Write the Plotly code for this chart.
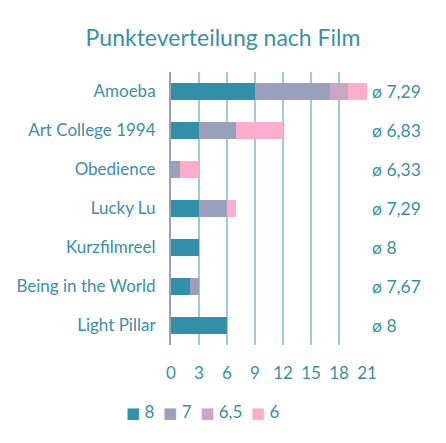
import plotly.graph_objects as go

# films, top to bottom
films = ['Amoeba', 'Art College 1994', 'Obedience', 'Lucky Lu',
         'Kurzfilmreel', 'Being in the World', 'Light Pillar']

# how many times each score was given per film
scores = ['8', '7', '6,5', '6']
score_values = [8, 7, 6.5, 6]
count_8 = [9, 3, 0, 3, 3, 2, 6]
count_7 = [8, 4, 1, 3, 0, 1, 0]
count_65 = [2, 0, 0, 0, 0, 0, 0]
count_6 = [2, 5, 2, 1, 0, 0, 0]

x_ticks = [0, 3, 6, 9, 12, 15, 18, 21]

colors = ['#318fa8', '#9aa0bb', '#caa5c5', '#ffaccd']
text_color = '#3a8fa8'
font = 'Lato, Open Sans, sans-serif'

counts = [count_8, count_7, count_65, count_6]

fig = go.Figure()
for name, vals, col in zip(scores, counts, colors):
    fig.add_trace(go.Bar(y=films, x=vals, name=name, orientation='h',
                         marker=dict(color=col, line=dict(width=0))))

# average score per film
for i, film in enumerate(films):
    total = sum(c[i] for c in counts)
    avg = sum(c[i] * s for c, s in zip(counts, score_values)) / total
    if abs(avg - round(avg)) < 1e-9:
        label = 'ø %d' % round(avg)
    else:
        label = 'ø ' + ('%.2f' % avg).replace('.', ',')
    fig.add_annotation(x=1, xref='paper', y=film, yref='y', text=label,
                       xanchor='left', xshift=3, showarrow=False,
                       font=dict(size=17.5, color=text_color, family=font))

# compact legend row, like the original
legend_text = '&nbsp;&nbsp;'.join(
    '<span style="color:%s;font-family:DejaVu Sans;font-size:15px">■</span> %s' % (c, s)
    for s, c in zip(scores, colors))
fig.add_annotation(x=0.163, xref='paper', y=-0.242, yref='paper',
                   xanchor='center', yanchor='middle', text=legend_text,
                   showarrow=False, font=dict(size=17, color=text_color, family=font))

fig.update_layout(
    width=446, height=443,
    barmode='stack', bargap=0.58,
    plot_bgcolor='white', paper_bgcolor='white',
    margin=dict(l=171, r=79, t=72, b=98, autoexpand=False),
    title=dict(text='Punkteverteilung nach Film', x=0.5, xanchor='center',
               y=0.915, yanchor='middle',
               font=dict(size=23, color=text_color, family=font)),
    font=dict(family=font, color=text_color, size=17),
    showlegend=False,
)
fig.update_xaxes(range=[0, 21], tickvals=x_ticks, showgrid=True,
                 gridcolor='#9ecbd8', gridwidth=2, zeroline=False,
                 ticks='outside', ticklen=13, tickcolor='rgba(0,0,0,0)',
                 tickfont=dict(size=17, color=text_color), fixedrange=True,
                 automargin=False)
fig.update_yaxes(autorange='reversed', showgrid=False, showline=True,
                 linecolor='#9aa0bb', linewidth=2,
                 ticks='outside', ticklen=10, tickcolor='rgba(0,0,0,0)',
                 tickfont=dict(size=17, color=text_color), automargin=False)

fig.write_html('out.html', config={'displayModeBar': False},
               post_script="document.body.style.margin='0';")
